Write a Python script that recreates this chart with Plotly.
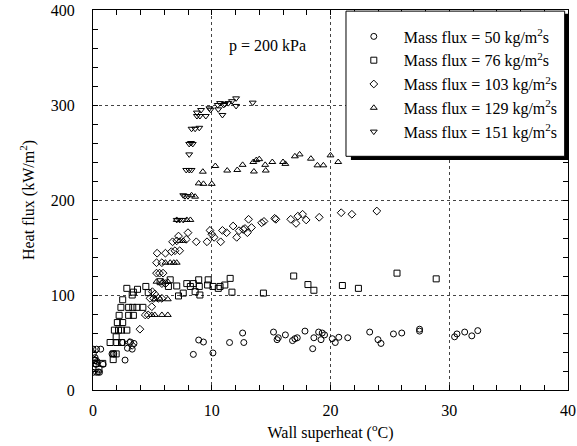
import plotly.graph_objects as go

# Heat flux vs. wall superheat, p = 200 kPa, five mass fluxes
# Mass flux = 50 kg/m2s
x50 = [0.0, 0.3, 0.65, 0.03, 0.18, 0.2, 0.25, 0.35, 0.85, 0.0, 0.3, 0.55, 0.45,
       1.6, 1.75,
       2.5, 2.7, 2.9, 3.15, 3.3, 3.45,
       8.45, 8.9, 9.3, 10.1, 11.5, 12.6, 12.7, 15.2, 15.5, 15.6, 16.2, 16.8, 17.0,
       17.2, 17.85, 18.5, 18.6, 19.0, 19.2, 19.3, 19.5, 20.15, 20.4, 20.7, 21.45,
       23.3, 24.0, 24.25, 25.3, 26.0, 27.5, 27.5, 30.45, 30.65, 31.3, 31.9, 32.4]
y50 = [43, 43, 43, 38, 34, 31.5, 27, 30, 27, 18.6, 18.6, 18.6, 19,
       38, 38,
       50, 31.5, 44, 50.5, 43, 49,
       37.5, 52.6, 50.5, 39, 50, 60, 50, 61, 53, 55, 58, 52, 54,
       55, 62, 43.5, 55, 61, 53, 60, 58, 54, 50, 55.5, 55,
       61, 53, 49, 59, 60, 64, 62, 56, 59, 61, 57, 62.5]

# Mass flux = 76 kg/m2s
x76 = [0.1, 0.5, 0.26, 0.82, 1.7, 1.7, 1.95, 1.44, 2.0, 2.4, 1.95, 1.8, 2.15, 2.4,
       2.85, 2.05, 2.5, 2.2, 3.0, 3.4, 2.35, 3.0, 3.35, 3.7, 4.2, 2.5, 3.3, 3.4,
       2.85, 3.75, 4.45, 4.65, 5.65, 6.35, 6.5, 7.05, 7.2, 7.6, 7.9, 8.2, 8.45,
       8.9, 8.95, 9.0, 8.6, 9.65, 9.7, 10.1, 10.55, 10.7, 11.1, 11.55, 11.7,
       14.35, 16.9, 18.1, 18.6, 21.0, 22.35, 25.6, 28.9]
y76 = [31, 22, 28, 28, 32, 38, 38, 50, 50, 50, 56, 63, 63, 63,
       63, 71, 71, 78.6, 78.6, 78.6, 87, 87, 87, 87, 87, 95, 100, 103,
       107, 106, 109, 102.5, 114, 109, 116, 109.5, 99, 102, 112, 109, 112,
       116, 109, 100, 103.5, 110.5, 116, 109, 107, 109, 110.5, 117.5, 103,
       102, 120, 111, 105, 110, 107, 123, 117]

# Mass flux = 103 kg/m2s
x103 = [3.05, 3.3, 3.95, 4.4, 4.65, 4.95, 4.8, 5.1, 5.5, 5.8, 5.0, 5.2, 5.8, 6.1,
        5.35, 5.6, 5.9, 5.35, 5.8, 5.4, 6.1, 6.6, 6.9, 7.3, 6.7, 7.05, 7.2, 8.0,
        7.85, 8.7, 9.6, 9.85, 10.0, 10.2, 10.75, 10.9, 11.25, 11.8, 12.1, 12.3,
        12.65, 12.8, 13.0, 13.1, 13.35, 14.2, 14.4, 15.3, 15.4, 16.65, 17.1,
        17.25, 17.65, 17.95, 19.05, 20.9, 21.8, 23.9]
y103 = [50, 47, 64, 79, 79, 87.7, 96.5, 96.5, 96.5, 96.5, 103.5, 101, 112, 112,
        123, 123, 123, 134, 134, 144, 144, 145.6, 146.6, 146.6, 156, 157, 162, 165.6,
        158.6, 156, 156, 168, 164, 160.7, 156, 168, 165.6, 172.6, 160.7, 167.7,
        169, 170, 165.6, 179.7, 171, 176, 177.5, 180.7, 179.7, 179.7, 175.4,
        183, 185, 179, 181.8, 186.6, 185, 188.4]

# Mass flux = 129 kg/m2s
x129 = [4.95, 5.2, 5.8, 6.3, 5.2, 5.65, 6.3, 5.35, 5.9, 6.3, 6.1, 6.5, 6.8, 7.05,
        7.3, 7.6, 7.05, 7.9, 8.2, 8.3, 8.6, 8.9, 9.3, 10.0, 9.25, 10.3, 11.3,
        12.15, 12.6, 13.5, 13.75, 14.0, 13.55, 14.5, 14.55, 15.1, 16.0, 16.2,
        17.0, 17.4, 18.35, 18.9, 19.4, 20.0, 20.65]
y129 = [79, 79, 79, 79, 95.5, 95.5, 95.5, 114, 114, 114, 134, 134, 134, 134,
        157, 157, 179, 179, 179, 205, 203.5, 217.5, 217, 217, 229.8, 235.8, 231,
        231.6, 237, 240, 242, 243, 230, 237, 231, 240, 240, 238,
        246, 248, 243.5, 236.5, 236.5, 247, 240]

# Mass flux = 151 kg/m2s
x151 = [7.05, 7.3, 7.6, 7.6, 7.75, 8.0, 8.1, 7.85, 8.1, 8.3, 8.1, 8.25, 8.4,
        8.3, 8.6, 8.95, 8.75, 9.0, 8.75, 9.1, 9.5, 9.8, 9.9, 10.5, 10.7, 10.55,
        10.9, 11.0, 11.1, 11.4, 11.7, 12.05, 12.05, 13.45]
y151 = [179, 179, 179, 205, 204, 204, 248, 231.6, 231.6, 231.6, 259, 260, 259,
        275, 275, 276, 288.4, 288.4, 292, 294.7, 288.4, 296.5, 295, 300, 302, 295.4,
        289.5, 300, 301, 302, 304, 307, 299, 302.5]

series = [
    ("Mass flux = 50 kg/m<sup>2</sup>s", x50, y50, "circle-open"),
    ("Mass flux = 76 kg/m<sup>2</sup>s", x76, y76, "square-open"),
    ("Mass flux = 103 kg/m<sup>2</sup>s", x103, y103, "diamond-open"),
    ("Mass flux = 129 kg/m<sup>2</sup>s", x129, y129, "triangle-up-open"),
    ("Mass flux = 151 kg/m<sup>2</sup>s", x151, y151, "triangle-down-open"),
]

FONT = "Liberation Serif"

fig = go.Figure()
for i, (name, xs, ys, sym) in enumerate(series):
    fig.add_trace(go.Scatter(
        x=xs, y=ys, mode="markers", name=name, legendgroup=f"g{i}",
        marker=dict(symbol=sym, size=6, color="black", line=dict(width=1, color="black")),
    ))

axis_common = dict(
    showline=True, linecolor="black", linewidth=1, mirror="allticks",
    ticks="inside", ticklen=5, tickcolor="black",
    showgrid=True, gridcolor="#444", griddash="dot", gridwidth=1,
    zeroline=False, automargin=False,
    tickfont=dict(family=FONT, size=16, color="black"),
    title_font=dict(family=FONT, size=16, color="black"),
)

fig.update_xaxes(
    range=[0, 40], tickvals=[0, 10, 20, 30, 40],
    minor=dict(dtick=2, ticks="inside", ticklen=5, tickcolor="black", showgrid=False),
    title_text="Wall superheat (<sup>o</sup>C)", title_standoff=8,
    ticklabelstandoff=6,
    **axis_common,
)
fig.update_yaxes(
    range=[0, 400], tickvals=[0, 100, 200, 300, 400],
    minor=dict(dtick=20, ticks="inside", ticklen=5, tickcolor="black", showgrid=False),
    title_text="Heat flux (kW/m<sup>2</sup>)", title_standoff=12,
    ticklabelstandoff=14,
    **axis_common,
)

fig.add_annotation(
    x=11.3, y=362, xref="x", yref="y", xanchor="left", yanchor="middle",
    text="p = 200 kPa", showarrow=False,
    font=dict(family=FONT, size=16, color="black"),
)

# legend frame with a drop shadow
fig.add_shape(
    type="rect", xref="paper", yref="paper",
    x0=0.543, x1=1.002, y0=0.605, y1=0.99,
    fillcolor="black", line=dict(width=0), layer="above",
)
fig.add_shape(
    type="rect", xref="paper", yref="paper",
    x0=0.5326, x1=0.993, y0=0.615, y1=0.997,
    fillcolor="white", line=dict(width=1, color="black"), layer="above",
)

fig.update_layout(
    width=577, height=446,
    margin=dict(l=93, r=9, t=10, b=56),
    paper_bgcolor="white", plot_bgcolor="white",
    font=dict(family=FONT, size=16, color="black"),
    showlegend=True,
    legend=dict(
        x=0.528, y=0.975, xanchor="left", yanchor="top",
        bgcolor="rgba(0,0,0,0)", borderwidth=0,
        font=dict(family=FONT, size=16, color="black"),
        tracegroupgap=0, itemwidth=50,
    ),
)

fig.write_html("out.html")
